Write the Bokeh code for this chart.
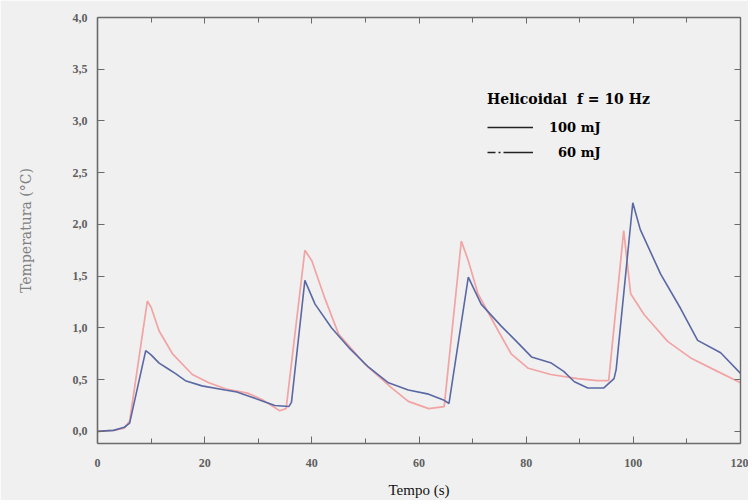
from bokeh.plotting import figure
from bokeh.models import (Range1d, FixedTicker, LinearAxis, Legend, LegendItem,
                          CustomJSTickFormatter)
from bokeh.embed import file_html
from bokeh.resources import INLINE

# ---- data ----
t_100 = [0, 3, 5, 6, 9, 10, 11.5, 13, 14.5, 16.4, 19.5, 23.8, 26, 28.8, 31, 33.1, 35.7, 36.2,
         38.7, 40.6, 43.7, 46.9, 50.6, 54.3, 58, 61.8, 64.7, 65.6, 69.2, 71.6, 75.3, 78, 81,
         84.7, 87, 89, 91.5, 94.5, 96.4, 96.8, 99.9, 101.3, 105.1, 108.8, 112, 116.3, 120]
T_100 = [0.0, 0.01, 0.04, 0.08, 0.78, 0.74, 0.66, 0.61, 0.56, 0.49, 0.44, 0.40, 0.38, 0.33, 0.29,
         0.25, 0.24, 0.28, 1.46, 1.23, 1.0, 0.81, 0.62, 0.47, 0.40, 0.36, 0.30, 0.27, 1.49, 1.23,
         1.02, 0.88, 0.72, 0.66, 0.58, 0.48, 0.42, 0.42, 0.51, 0.6, 2.21, 1.95, 1.52, 1.19, 0.88,
         0.76, 0.56]

t_60 = [0, 3, 5, 6, 9.3, 10, 11.5, 14, 17.7, 20.8, 24, 28, 31, 34, 35.2, 38.7, 40, 42.4, 45,
        49.9, 54.9, 58, 61.8, 64.7, 67.9, 69.2, 71, 74.8, 77.2, 80.4, 84.6, 89.6, 93.3, 95.4,
        98.2, 99.5, 102, 106.4, 110.7, 115.7, 120]
T_60 = [0.0, 0.01, 0.03, 0.1, 1.26, 1.2, 0.97, 0.75, 0.55, 0.47, 0.41, 0.37, 0.3, 0.2, 0.22,
        1.75, 1.65, 1.29, 0.94, 0.65, 0.42, 0.29, 0.22, 0.24, 1.84, 1.65, 1.33, 0.97, 0.75,
        0.61, 0.55, 0.51, 0.49, 0.49, 1.94, 1.33, 1.13, 0.87, 0.71, 0.58, 0.47]

x_major = [0, 20, 40, 60, 80, 100, 120]
x_minor = [10, 30, 50, 70, 90, 110]
y_ticks = [0.0, 0.5, 1.0, 1.5, 2.0, 2.5, 3.0, 3.5, 4.0]
y_tick_labels = ["0,0", "0,5", "1,0", "1,5", "2,0", "2,5", "3,0", "3,5", "4,0"]
x_title = "Tempo (s)"
y_title = "Temperatura (°C)"

legend_title = "Helicoidal  f = 10 Hz"
series_labels = ["100 mJ", "\u200760 mJ"]

SERIF = "Liberation Serif"
LSERIF = "DejaVu Serif"
BG = "#f0f0f0"
AX = "#6a6a6a"
NAN = float("nan")

p = figure(width=748, height=500, output_backend="svg", toolbar_location=None,
           x_range=Range1d(0, 120), y_range=Range1d(-0.117, 4.0),
           min_border_left=97, min_border_right=8, min_border_top=17, min_border_bottom=57,
           background_fill_color=BG, border_fill_color=BG)
p.outline_line_color = None
p.xgrid.visible = False
p.ygrid.visible = False

# data lines
p.line(t_60, T_60, line_color="#f2a3a3", line_width=1.7)
p.line(t_100, T_100, line_color="#5a68a3", line_width=1.6)

# axes
xa = p.xaxis[0]
xa.ticker = FixedTicker(ticks=x_major, minor_ticks=x_minor)
ya = p.yaxis[0]
ya.ticker = FixedTicker(ticks=y_ticks)
ya.major_label_overrides = {v: s for v, s in zip(y_ticks, y_tick_labels)}

for ax in (xa, ya):
    ax.axis_line_color = AX
    ax.axis_line_width = 1.6
    ax.major_tick_line_color = AX
    ax.minor_tick_line_color = AX
    ax.major_tick_in = 7
    ax.major_tick_out = 0
    ax.minor_tick_in = 5
    ax.minor_tick_out = 0
    ax.major_label_text_font = SERIF
    ax.major_label_text_font_style = "bold"
    ax.major_label_text_color = "#5e5e5e"
    ax.major_label_text_font_size = "12px"

xa.major_label_standoff = 15
xa.axis_label = x_title
xa.axis_label_text_font = SERIF
xa.axis_label_text_font_style = "normal"
xa.axis_label_text_color = "#111111"
xa.axis_label_text_font_size = "15px"
xa.axis_label_standoff = 12

ya.major_label_standoff = 10
ya.axis_label = y_title
ya.axis_label_text_font = LSERIF
ya.axis_label_text_font_style = "normal"
ya.axis_label_text_color = "#808080"
ya.axis_label_text_font_size = "14px"
ya.axis_label_standoff = 36

blank = CustomJSTickFormatter(code="return ''")
top = LinearAxis(ticker=FixedTicker(ticks=x_major, minor_ticks=x_minor), formatter=blank)
right = LinearAxis(ticker=FixedTicker(ticks=y_ticks), formatter=blank)
for ax in (top, right):
    ax.axis_line_color = AX
    ax.axis_line_width = 1.4
    ax.major_tick_line_color = AX
    ax.minor_tick_line_color = AX
    ax.major_tick_in = 6
    ax.major_tick_out = 0
    ax.minor_tick_in = 5
    ax.minor_tick_out = 0
    ax.major_label_text_font_size = "1px"
    ax.major_label_standoff = 0
p.add_layout(top, "above")
p.add_layout(right, "right")

# legend (black sample lines, as in the original)
r1 = p.line([NAN], [NAN], line_color="#222222", line_width=1.3)
r2 = p.line([NAN], [NAN], line_color="#222222", line_width=1.3, line_dash="8 3 2 3 30 4")
leg = Legend(items=[LegendItem(label=series_labels[0], renderers=[r1]),
                    LegendItem(label=series_labels[1], renderers=[r2])],
             location=(390, 281), title=legend_title,
             title_text_font=LSERIF, title_text_font_style="bold", title_text_font_size="14px",
             title_text_color="#000000", title_standoff=10,
             label_text_font=LSERIF, label_text_font_style="bold", label_text_font_size="13px",
             label_text_color="#000000", glyph_width=46, glyph_height=20, label_standoff=16,
             spacing=5, padding=0, margin=0, border_line_color=None,
             background_fill_alpha=0)
p.add_layout(leg, "center")

open("out.html", "w").write(file_html(p, INLINE))
